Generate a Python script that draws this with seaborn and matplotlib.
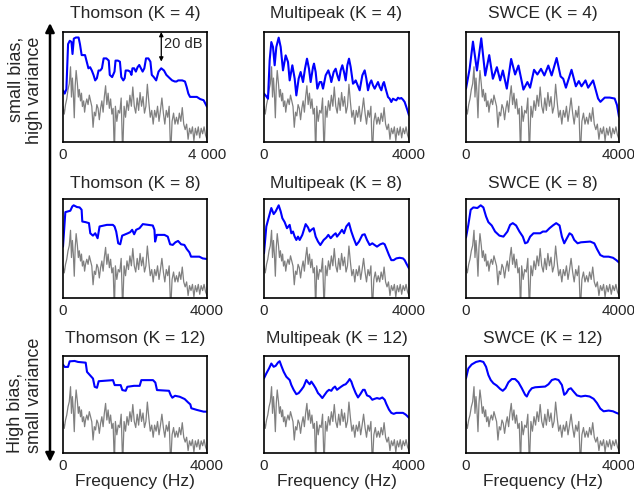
import numpy as np
import matplotlib
matplotlib.use("Agg")
import matplotlib.pyplot as plt
from matplotlib.patches import FancyArrowPatch
import seaborn as sns

sns.set_style("white")
plt.rcParams["font.family"] = ["Liberation Sans", "DejaVu Sans"]

# ---------------- data (relative level, dB) ----------------
periodogram_hz = [0, 35, 70, 104, 139, 174, 209, 235, 261, 287, 313, 339, 365, 400, 426, 452, 487, 513, 539, 574,
                  600, 626, 661, 696, 731, 766, 800, 835, 870, 905, 940, 974, 1009, 1044, 1079, 1114, 1148, 1183,
                  1218, 1253, 1288, 1322, 1357, 1392, 1427,
                  1455, 1495, 1535, 1576, 1616, 1657, 1697, 1737, 1778, 1818, 1859, 1899, 1939, 1980, 2020, 2061,
                  2101, 2141, 2182, 2222, 2263, 2303, 2343, 2384, 2424, 2465, 2505, 2545, 2586, 2626, 2667, 2707,
                  2747, 2788, 2828, 2869, 2909, 2949, 2990, 3030, 3071, 3111, 3152, 3192, 3232, 3273, 3313, 3354,
                  3394, 3434, 3475, 3515, 3556, 3596, 3636, 3677, 3717, 3758, 3798, 3838, 3879, 3919, 3960, 4000]
periodogram_db = [25.8, 20.3, 27.2, 31.3, 38.1, 42.3, 54.7, 32.7, 46.5, 35.5, 17.6, 40.9, 52, 42.3, 32.7, 38.2,
                  29.9, 35.5, 25.8, 29.9, 21.7, 27.2, 31.3, 27.2, 34.1, 29.9, 25.8, 10.7, 21.7, 19.0, 27.2, 24.5,
                  16.2, 24.5, 29.9, 21.7, 32.7, 40.9, 27.2, 35.5, 24.5, 31.3, 20.3, 24.5, -10,
                  26, 15, 23, 21,
                  32, -10, 26, 18, 30, 23, 34, 26, 40, 26,
                  21, 32, 23, 36, 26, 33, 21, 26, 42, 29,
                  18, 23, 13, 23, 18, 26, 15, 23, 32, 21,
                  13, 23, 18, 26, -10, 15, 21, 13, 18, 13,
                  21, 15, 25, 13, 9, 13, 2, 10, 6, 11,
                  1, 10, 5, 11, 3, 10, 6, 11, 5, 2]

thomson4_hz = [0, 47, 94, 141, 188, 235, 264, 301, 358, 433, 471, 518, 612, 659, 706, 753, 800, 847, 894, 941,
               988, 1035, 1082, 1129, 1205, 1271, 1299, 1365, 1431, 1459, 1525, 1581, 1619, 1675, 1713, 1741,
               1807, 1864, 1901, 1929, 1976, 2024, 2071, 2118, 2165, 2212, 2259, 2306, 2372, 2428, 2466, 2522,
               2588, 2654, 2729, 2805, 2871, 2965, 3031, 3106, 3153, 3200, 3247, 3313, 3388, 3435, 3482, 3529,
               3624, 3718, 3812, 3906, 4000]
thomson4_db = [37.6, 35.2, 38.4, 71.2, 73.6, 72.8, 64, 75.2, 76, 76, 71.2, 63.2, 63.2, 58.4, 53.6, 54.4, 52, 48.8,
               44.8, 46.4, 52, 52, 53.6, 60.8, 60.8, 59.2, 48.8, 47.2, 51.2, 59.2, 59.2, 58.4, 47.2, 44.8, 46.4, 52,
               52, 51.2, 48.8, 53.6, 53.6, 51.2, 54.4, 56, 53.6, 51.2, 53.6, 60.8, 60.8, 58.4, 48.8, 47.2, 44.8, 51.2,
               53.6, 52, 48.8, 46.4, 44.8, 44, 44, 44.8, 44.8, 44.8, 44, 40, 35.2, 32.8, 32.8, 32.8, 31.2, 30.4, 25.6]

multipeak4_hz = [0, 64, 110, 156, 202, 248, 294, 340, 405, 460, 524, 598, 662, 708, 782, 846, 892, 956, 1011, 1076,
                 1131, 1186, 1241, 1287, 1352, 1379, 1425, 1471, 1536, 1582, 1628, 1701, 1775, 1830, 1857, 1922,
                 1977, 2023, 2069, 2115, 2161, 2207, 2253, 2299, 2345, 2391, 2455, 2501, 2529, 2584, 2639, 2713,
                 2777, 2823, 2869, 2915, 2961, 3007, 3053, 3099, 3145, 3191, 3237, 3283, 3310, 3356, 3421, 3467,
                 3512, 3558, 3604, 3650, 3696, 3742, 3788, 3834, 3880, 3926, 3972, 4000]
multipeak4_db = [35.2, 33.2, 31.5, 59.4, 72.7, 69.1, 55.8, 69.1, 75.9, 69.1, 52.1, 63.0, 58.2, 44.8, 55.8, 46.1,
                 33.9, 46.1, 50.9, 43.6, 53.3, 60.6, 53.3, 43.6, 54.5, 57.0, 50.9, 38.8, 43.6, 43.6, 38.8, 48.5,
                 52.1, 47.3, 43.6, 50.9, 53.3, 48.5, 44.8, 52.1, 55.8, 50.9, 44.8, 55.8, 60.6, 54.5, 42.4, 43.6,
                 44.8, 41.2, 37.6, 48.5, 52.1, 46.1, 37.6, 42.4, 44.8, 41.2, 38.8, 41.2, 43.6, 40.0, 37.6, 42.4,
                 43.6, 38.8, 32.7, 31.5, 29.1, 31.5, 30.8, 30.3, 32.2, 31.5, 32.0, 30.8, 29.1, 25.5, 21.8, 19.4]

swce4_hz = [0, 95, 182, 286, 399, 503, 607, 703, 807, 894, 963, 1067, 1180, 1284, 1371, 1501, 1605, 1675, 1779,
            1866, 1961, 2048, 2152, 2239, 2369, 2473, 2542, 2612, 2759, 2872, 2950, 3020, 3124, 3193, 3323, 3453,
            3514, 3627, 3757, 3887, 3948, 4000]
swce4_db = [38.8, 53.2, 73.0, 52.0, 75.4, 48.4, 63.2, 46.0, 54.4, 44.8, 52.0, 38.8, 60.4, 49.1, 55.6, 38.1, 43.6,
            39.5, 52.5, 49.1, 53.2, 48.4, 55.6, 48.4, 61.1, 47.7, 46.0, 39.5, 52.5, 40.5, 44.3, 40.5, 44.8, 39.5,
            44.8, 31.6, 29.2, 32.3, 32.3, 31.6, 26.8, 18.4]

thomson8_hz = [0, 65, 203, 259, 296, 388, 462, 517, 536, 628, 721, 758, 831, 896, 961, 1016, 1219, 1386, 1432,
               1478, 1534, 1589, 1644, 1801, 1866, 1921, 1977, 2032, 2125, 2217, 2494, 2540, 2559, 2605, 2818, 2910,
               2975, 3049, 3122, 3196, 3280, 3372, 3437, 3511, 3557, 3788, 3880, 4000]
thomson8_db = [41.5, 69.4, 70.5, 74.0, 74.9, 73.5, 73.2, 71.3, 61.8, 61.3, 60.5, 52.3, 50.4, 52.3, 48.3, 57.8,
               59.1, 59.1, 57.8, 53.7, 44.2, 43.4, 50.4, 52.3, 53.2, 55.1, 51.5, 55.1, 56.4, 59.7, 58.6, 55.1, 45.6,
               51.0, 51.0, 49.6, 43.4, 42.9, 45.0, 46.1, 43.4, 42.9, 39.6, 36.9, 33.4, 33.4, 32.0, 31.5]

multipeak8_hz = [0, 64, 138, 202, 267, 322, 405, 460, 506, 570, 634, 708, 754, 800, 846, 892, 938, 984, 1057,
                 1149, 1214, 1260, 1306, 1370, 1425, 1490, 1554, 1646, 1719, 1775, 1839, 1922, 1977, 2014, 2087,
                 2152, 2207, 2271, 2345, 2409, 2473, 2547, 2621, 2713, 2777, 2841, 2915, 2988, 3053, 3117, 3209,
                 3283, 3329, 3375, 3448, 3512, 3577, 3650, 3742, 3834, 3880, 3926, 4000]
multipeak8_db = [36.1, 57.8, 65.9, 72.7, 67.8, 70.0, 74.9, 70.0, 64.5, 61.3, 56.4, 59.1, 52.3, 53.7, 49.6, 46.9,
                 49.6, 46.9, 51.0, 59.7, 57.0, 53.7, 55.1, 56.4, 49.6, 45.6, 42.8, 46.9, 48.8, 51.0, 48.3, 51.0,
                 52.3, 49.6, 52.3, 55.1, 52.3, 57.8, 60.5, 53.7, 48.3, 42.8, 45.6, 51.0, 51.5, 46.9, 42.8, 44.2,
                 42.8, 41.5, 43.4, 44.2, 43.4, 40.1, 34.7, 30.6, 30.6, 32.0, 32.5, 32.0, 30.6, 27.9, 23.9]

swce8_hz = [0, 61, 122, 192, 297, 384, 454, 524, 585, 673, 760, 873, 978, 1083, 1153, 1223, 1310, 1397, 1485,
            1546, 1607, 1677, 1764, 1939, 2009, 2096, 2184, 2271, 2358, 2446, 2507, 2568, 2638, 2708, 2769, 2830,
            2917, 3004, 3249, 3354, 3424, 3511, 3598, 3729, 3843, 3930, 4000]
swce8_db = [48.8, 59.1, 71.3, 73.2, 72.7, 74.9, 73.2, 65.9, 61.3, 58.6, 53.7, 50.4, 49.6, 53.7, 59.1, 60.5, 58.6,
            53.7, 49.6, 44.2, 45.0, 49.6, 52.3, 52.3, 53.7, 53.7, 56.4, 58.6, 60.5, 58.6, 49.6, 44.2, 48.3, 52.3,
            51.0, 46.9, 44.2, 45.0, 45.6, 44.2, 39.6, 34.7, 33.4, 33.4, 32.5, 30.6, 28.7]

thomson12_hz = [0, 46, 139, 185, 324, 417, 630, 667, 833, 880, 944, 991, 1389, 1435, 1602, 1648, 1741, 1787,
                1972, 2130, 2176, 2500, 2565, 2611, 2944, 2991, 3037, 3111, 3241, 3380, 3472, 3537, 3565, 3722,
                3907, 4000]
thomson12_db = [72.9, 71.0, 71.0, 75.6, 75.9, 75.1, 74.5, 66.9, 61.4, 54.6, 53.8, 59.2, 60.1, 56.0, 56.0, 51.9,
                51.3, 54.6, 55.4, 55.4, 60.1, 60.1, 58.1, 51.9, 51.3, 47.8, 45.6, 47.2, 46.4, 44.5, 41.8, 40.1,
                36.9, 35.5, 34.1, 34.1]

multipeak12_hz = [0, 64, 138, 202, 267, 322, 386, 432, 478, 543, 616, 708, 754, 818, 892, 956, 1030, 1094, 1168,
                  1214, 1260, 1306, 1370, 1425, 1490, 1536, 1609, 1673, 1738, 1793, 1857, 1903, 1959, 2014, 2069,
                  2133, 2198, 2253, 2317, 2363, 2409, 2455, 2529, 2593, 2657, 2731, 2777, 2841, 2915, 2988, 3053,
                  3117, 3191, 3264, 3329, 3375, 3448, 3512, 3577, 3650, 3834, 3908, 3954, 4000]
multipeak12_db = [61.6, 65.6, 69.7, 73.8, 71.1, 71.9, 74.6, 75.7, 71.9, 67.0, 62.9, 60.2, 56.1, 52.1, 48.5, 49.4,
                  52.1, 54.8, 60.2, 58.3, 56.7, 58.9, 56.1, 53.4, 49.4, 48.0, 45.3, 48.0, 50.7, 52.1, 51.3, 53.4,
                  54.8, 52.1, 53.4, 54.8, 56.1, 56.7, 58.9, 61.0, 58.9, 54.8, 49.4, 45.8, 48.5, 52.1, 52.1, 47.5,
                  46.6, 43.9, 44.7, 45.3, 44.7, 45.8, 43.9, 40.4, 35.8, 33.1, 32.3, 33.1, 33.1, 31.7, 30.4, 29.0]

swce12_hz = [0, 61, 148, 262, 367, 454, 524, 585, 646, 716, 804, 891, 961, 1031, 1109, 1197, 1284, 1371, 1459,
             1546, 1590, 1651, 1721, 1808, 2070, 2157, 2245, 2332, 2419, 2507, 2568, 2620, 2681, 2742, 2812, 2900,
             3004, 3118, 3232, 3336, 3424, 3511, 3598, 3729, 3843, 3930, 4000]
swce12_db = [61.6, 69.7, 73.0, 75.1, 75.9, 75.1, 71.1, 64.3, 60.2, 57.5, 55.6, 52.9, 51.3, 53.4, 58.3, 61.0, 61.0,
             58.3, 53.4, 48.0, 46.6, 50.7, 53.4, 54.2, 54.8, 56.7, 60.2, 61.0, 60.2, 56.1, 48.0, 49.4, 52.6, 53.4,
             50.7, 47.5, 46.6, 47.2, 46.6, 44.7, 41.2, 36.6, 34.4, 35.0, 34.4, 33.1, 32.3]

titles = [["Thomson (K = 4)", "Multipeak (K = 4)", "SWCE (K = 4)"],
          ["Thomson (K = 8)", "Multipeak (K = 8)", "SWCE (K = 8)"],
          ["Thomson (K = 12)", "Multipeak (K = 12)", "SWCE (K = 12)"]]
estimates = [[(thomson4_hz, thomson4_db), (multipeak4_hz, multipeak4_db), (swce4_hz, swce4_db)],
             [(thomson8_hz, thomson8_db), (multipeak8_hz, multipeak8_db), (swce8_hz, swce8_db)],
             [(thomson12_hz, thomson12_db), (multipeak12_hz, multipeak12_db), (swce12_hz, swce12_db)]]
xtick_labels_first = ["0", "4 000"]
xtick_labels = ["0", "4000"]

# ---------------- layout ----------------
W, H = 634, 495
fig = plt.figure(figsize=(W / 100, H / 100), dpi=100)

cols_px = [(63, 207), (264, 409), (466, 619)]
rows_px = [(32, 142), (199, 298), (356, 453)]
title_pads = [9.8, 8.0, 9.0]

for r, (top, bot) in enumerate(rows_px):
    for c, (lft, rgt) in enumerate(cols_px):
        ax = fig.add_axes([lft / W, 1 - bot / H, (rgt - lft) / W, (bot - top) / H])
        sns.lineplot(x=periodogram_hz, y=periodogram_db, ax=ax, color="#808080", lw=0.9,
                     estimator=None, sort=False)
        fx, fy = estimates[r][c]
        sns.lineplot(x=fx, y=fy, ax=ax, color="#0000ff", lw=1.5, estimator=None, sort=False)
        ax.set_xlim(0, 4000)
        ax.set_ylim(0, 80)
        ax.set_xticks([0, 4000])
        ax.set_xticklabels(xtick_labels_first if (r == 0 and c == 0) else xtick_labels)
        ax.set_yticks([])
        ax.tick_params(axis="x", length=0, pad=4.5, labelsize=11)
        ax.set_ylabel("")
        ax.set_xlabel("Frequency (Hz)" if r == 2 else "", fontsize=12.5, labelpad=0.5)
        ax.set_title(titles[r][c], fontsize=12.5, pad=title_pads[r])
        for s in ax.spines.values():
            s.set_color("black")
            s.set_linewidth(1.2)
        if r == 0 and c == 0:
            ax.annotate("", xy=(2730, 58.5), xytext=(2730, 80),
                        arrowprops=dict(arrowstyle="<|-|>", lw=0.9, color="black",
                                        shrinkA=0, shrinkB=0, mutation_scale=6))
            ax.text(2810, 71, "20 dB", fontsize=10.5, ha="left", va="center")

# big vertical double arrow on the left
arrow = FancyArrowPatch((50 / W, 1 - 462 / H), (50 / W, 1 - 23 / H), transform=fig.transFigure,
                        arrowstyle="<|-|>", mutation_scale=13, lw=1.8, color="black",
                        shrinkA=0, shrinkB=0)
fig.patches.append(arrow)

fig.text(25 / W, 1 - 37 / H, "small bias,\nhigh variance", rotation=90, fontsize=13,
         ha="center", va="top", multialignment="right", linespacing=1.1)
fig.text(25 / W, 1 - 453 / H, "High bias,\nsmall variance", rotation=90, fontsize=13,
         ha="center", va="bottom", multialignment="left", linespacing=1.1)

fig.savefig("out.png", dpi=100)
